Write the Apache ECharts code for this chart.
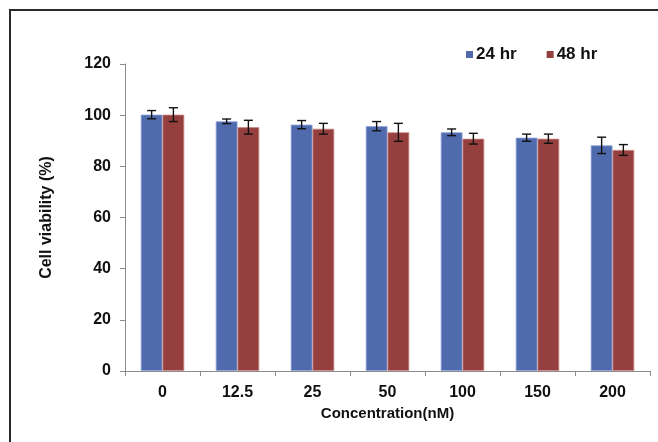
<!DOCTYPE html>
<html><head><meta charset="utf-8">
<script src="https://cdn.jsdelivr.net/npm/echarts@6/dist/echarts.min.js"></script>
<style>html,body{margin:0;padding:0;background:#fff}#c{width:658px;height:442px}</style>
</head><body><div id="c"></div>
<script>
const categories = ['0', '12.5', '25', '50', '100', '150', '200'];
const seriesNames = ['24 hr', '48 hr'];
const viability24 = [100.2, 97.6, 96.3, 95.7, 93.3, 91.2, 88.2];
const viability48 = [100.2, 95.3, 94.7, 93.3, 90.8, 90.8, 86.4];
const err24 = [1.6, 0.9, 1.6, 1.8, 1.3, 1.4, 3.2];
const err48 = [2.7, 2.7, 2.1, 3.5, 2.1, 1.8, 2.1];
const yTicks = [0, 20, 40, 60, 80, 100, 120];

const colors = ['#506aae', '#953f3e'];
const BAR_FRAC = 0.29;
const font = 'Liberation Sans, Arial, sans-serif';

function errSeries(vals, errs, side) {
  return {
    type: 'custom',
    data: vals.map((v, i) => [i, v, errs[i]]),
    z: 5,
    renderItem: function (params, api) {
      const i = api.value(0), v = api.value(1), e = api.value(2);
      const band = api.size([1, 0])[0];
      const bw = band * BAR_FRAC;
      const c = api.coord([i, v]);
      const x = c[0] + side * bw / 2;
      const yTop = api.coord([i, v + e])[1];
      const yBot = api.coord([i, v - e])[1];
      const cap = 4.5;
      const st = { stroke: '#111', lineWidth: 1.4 };
      return { type: 'group', children: [
        { type: 'line', shape: { x1: x, y1: yTop, x2: x, y2: yBot }, style: st },
        { type: 'line', shape: { x1: x - cap, y1: yTop, x2: x + cap, y2: yTop }, style: st },
        { type: 'line', shape: { x1: x - cap, y1: yBot, x2: x + cap, y2: yBot }, style: st }
      ]};
    }
  };
}

const chart = echarts.init(document.getElementById('c'));
chart.setOption({
  animation: false,
  backgroundColor: '#fff',
  graphic: [{
    type: 'rect', shape: { x: 10, y: 10, width: 700, height: 500 },
    style: { fill: 'none', stroke: '#2a2a2a', lineWidth: 2 }, z: 100, silent: true
  }],
  legend: {
    data: seriesNames,
    top: 41, left: 461,
    itemWidth: 7, itemHeight: 7, itemGap: 30,
    icon: 'rect',
    itemStyle: { borderWidth: 0 },
    textStyle: { fontFamily: font, fontWeight: 'bold', fontSize: 17, color: '#111', padding: [0, 0, 0, -2] }
  },
  grid: { left: 125, right: 8, top: 64, bottom: 71, containLabel: false },
  xAxis: {
    type: 'category', data: categories,
    name: 'Concentration(nM)', nameLocation: 'middle', nameGap: 31,
    nameTextStyle: { fontFamily: font, fontWeight: 'bold', fontSize: 15, color: '#111' },
    axisLine: { lineStyle: { color: '#8c8c8c', width: 1 } },
    axisTick: { show: true, length: 5, lineStyle: { color: '#8c8c8c' } },
    axisLabel: { fontFamily: font, fontWeight: 'bold', fontSize: 16, color: '#111', margin: 14 }
  },
  yAxis: {
    type: 'value', min: 0, max: 120, interval: 20,
    name: 'Cell viability (%)', nameLocation: 'middle', nameGap: 70, nameRotate: 90,
    nameTextStyle: { fontFamily: font, fontWeight: 'bold', fontSize: 16, color: '#111' },
    axisLine: { show: true, lineStyle: { color: '#8c8c8c', width: 1 } },
    axisTick: { show: true, length: 5, lineStyle: { color: '#8c8c8c' } },
    splitLine: { show: false },
    axisLabel: { fontFamily: font, fontWeight: 'bold', fontSize: 16, color: '#111', margin: 14,
      formatter: v => yTicks.includes(v) ? String(v) : '' }
  },
  series: [
    { name: seriesNames[0], type: 'bar', data: viability24, barWidth: (BAR_FRAC * 100) + '%', barGap: '0%',
      itemStyle: { color: colors[0], borderColor: '#8ea3d8', borderWidth: 0.8 } },
    { name: seriesNames[1], type: 'bar', data: viability48, barWidth: (BAR_FRAC * 100) + '%', barGap: '0%',
      itemStyle: { color: colors[1], borderColor: '#c98a88', borderWidth: 0.8 } },
    errSeries(viability24, err24, -1),
    errSeries(viability48, err48, 1)
  ]
});
</script></body></html>
